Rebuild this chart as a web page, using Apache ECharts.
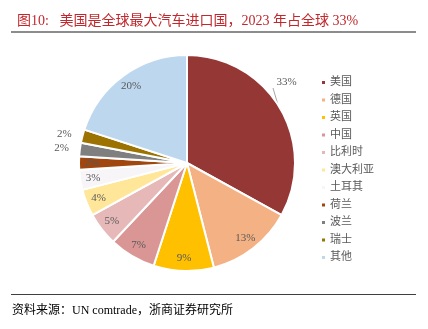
<!DOCTYPE html>
<html><head><meta charset="utf-8">
<script src="https://cdn.jsdelivr.net/npm/echarts@6/dist/echarts.min.js"></script>
<style>html,body{margin:0;padding:0;background:#fff}#c{width:428px;height:329px}</style>
</head><body><div id="c"></div>
<script>
const categories = ['美国','德国','英国','中国','比利时','澳大利亚','土耳其','荷兰','波兰','瑞士','其他'];
const shares = [33,13,9,7,5,4,3,2,2,2,20];
const colors = ['#953735','#F4B183','#FFC000','#D99694','#E6B9B8','#FFE699','#F8F5F8','#A0460E','#7F7F7F','#9C7300','#BDD7EE'];
const outsideLabels = ['美国','波兰','瑞士'];

const serif = '"Liberation Serif","Times New Roman","Noto Sans CJK SC",serif';
const chart = echarts.init(document.getElementById('c'), null, {renderer:'canvas'});

const visibleData = categories.map((n,i)=>({
  name:n, value:shares[i],
  itemStyle:{color:colors[i]},
  label:{show: outsideLabels.includes(n)},
  labelLine:{show: n==='美国', length: 10, length2: 0, lineStyle:{color:'#A6A6A6', width:1}}
}));
const ringData = categories.map((n,i)=>({
  name:n, value:shares[i],
  label:{show: !outsideLabels.includes(n)}
}));

chart.setOption({
  animation:false,
  color: colors,
  title:{
    text:'图10:   美国是全球最大汽车进口国，2023 年占全球 33%',
    left:12, top:9,
    textStyle:{fontFamily:serif, fontSize:14, fontWeight:'normal', color:'#C0282D'}
  },
  legend:{
    orient:'vertical', left:315, top:72,
    icon:'rect', itemWidth:5, itemHeight:5, itemGap:6.5,
    textStyle:{fontFamily:serif, fontSize:11, color:'#595959', padding:[0,0,0,-1]},
    data: categories
  },
  graphic:[
    {type:'rect', shape:{x:11, y:31, width:405, height:2}, style:{fill:'#8C8C8C'}},
    {type:'rect', shape:{x:11, y:294, width:405, height:1}, style:{fill:'#404040'}},
    {type:'text', left:12, top:305, style:{text:'资料来源：UN comtrade，浙商证券研究所', font:'12px '+serif, fill:'#000'}}
  ],
  series:[
    {
      type:'pie', center:[187,163], radius:[0,108], startAngle:90, clockwise:true,
      avoidLabelOverlap:false, silent:true,
      itemStyle:{borderColor:'#fff', borderWidth:2},
      label:{position:'outside', formatter:'{c}%', fontFamily:serif, fontSize:11, color:'#595959', distanceToLabelLine:1},
      labelLayout: function(p){
        if (p.dataIndex === 0) {
          const r = p.labelRect;
          return {x: r.x - 13, y: r.y - 21 + r.height/2,
                  labelLinePoints: [[278,105],[273,88],[273,88]]};
        }
        return {};
      },
      data: visibleData
    },
    {
      type:'pie', center:[187,163], radius:[80,104], startAngle:90, clockwise:true,
      avoidLabelOverlap:false, silent:true, legendHoverLink:false,
      itemStyle:{color:'rgba(0,0,0,0)', borderWidth:0},
      label:{position:'inside', formatter:'{c}%', fontFamily:serif, fontSize:11, color:'#595959'},
      labelLine:{show:false},
      data: ringData
    }
  ]
});
</script></body></html>
